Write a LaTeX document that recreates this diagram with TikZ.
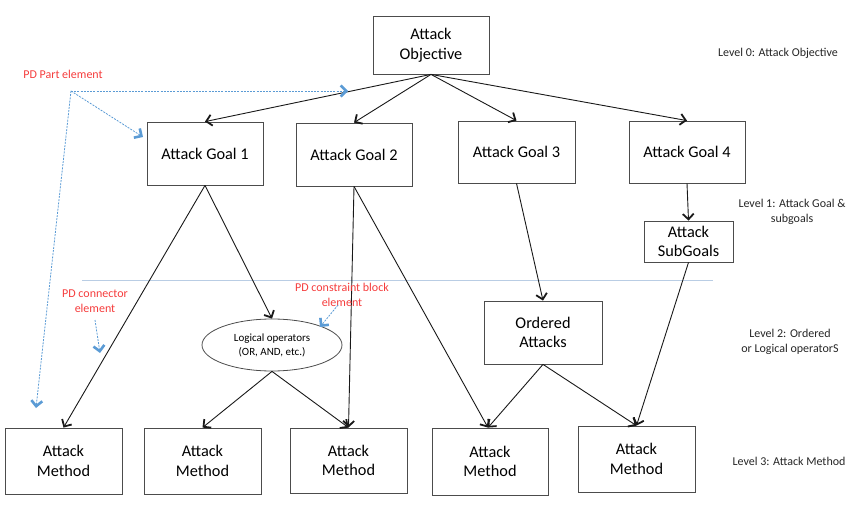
\documentclass[tikz,border=0pt]{standalone}
\usepackage{fontspec}
\setmainfont{Carlito}
\usetikzlibrary{arrows.meta,shapes.geometric}
\definecolor{pdblue}{RGB}{91,155,213}
\definecolor{pdred}{RGB}{245,60,60}
\definecolor{sepline}{RGB}{185,205,228}
\tikzset{
  box/.style={draw=black!70, line width=0.8pt, rectangle, align=center, font=\fontsize{16.3}{19.5}\selectfont, inner sep=0pt},
  conn/.style={draw=black!90, line width=0.9pt, -{Straight Barb[length=5.5pt,width=11pt,line width=1.8pt]}},
  pdconn/.style={draw=pdblue, line width=0.8pt, dash pattern=on 2pt off 1.2pt, -{Straight Barb[length=5.5pt,width=11pt,line width=2.6pt]}},
  pdlabel/.style={text=pdred, align=center, font=\fontsize{12}{15}\selectfont, inner sep=0pt},
  lvl/.style={text=black!85, align=center, font=\fontsize{12}{15.5}\selectfont, inner sep=0pt}
}
\begin{document}
\begin{tikzpicture}[x=1pt,y=-1pt]
\useasboundingbox (0,0) rectangle (864,510);
% separator line
\coordinate (sepL) at (82,280);
\coordinate (sepR) at (713,280);
\draw[sepline, line width=0.9pt] (sepL) -- (sepR);
% boxes
\node[box, minimum width=116pt, minimum height=58pt] (AO) at (431,45) {Attack\\Objective};
\node[box, minimum width=116pt, minimum height=63pt] (AG1) at (205,153.5) {Attack Goal 1};
\node[box, minimum width=116pt, minimum height=63pt] (AG2) at (354,154.5) {Attack Goal 2};
\node[box, minimum width=117pt, minimum height=62pt] (AG3) at (516.5,152) {Attack Goal 3};
\node[box, minimum width=116pt, minimum height=62pt] (AG4) at (687,152) {Attack Goal 4};
\node[box, minimum width=89pt, minimum height=41pt] (SG) at (688.5,241.5) {Attack\\SubGoals};
\node[box, minimum width=118pt, minimum height=63pt] (OA) at (543,332.5) {Ordered\\Attacks};
\node[draw=black!70, line width=0.8pt, ellipse, minimum width=140pt, minimum height=52pt, inner sep=0pt, align=center, font=\fontsize{11}{14}\selectfont] (LO) at (272,345) {Logical operators\\(OR, AND, etc.)};
\node[box, minimum width=117pt, minimum height=66pt] (M1) at (63.5,461) {Attack\\Method};
\node[box, minimum width=117pt, minimum height=66pt] (M2) at (202.5,461) {Attack\\Method};
\node[box, minimum width=117pt, minimum height=65pt] (M3) at (348.5,460.5) {Attack\\Method};
\node[box, minimum width=116pt, minimum height=67pt] (M4) at (490,461.5) {Attack\\Method};
\node[box, minimum width=117pt, minimum height=66pt] (M5) at (636.5,459) {Attack\\Method};
% connectors
\draw[conn] (AO.south) -- (AG1.north);
\draw[conn] (AO.south) -- (AG2.north);
\draw[conn] (AO.south) -- (AG3.north);
\draw[conn] (AO.south) -- (AG4.north);
\draw[conn] (AG4.south) -- (SG.north);
\draw[conn] (AG1.south) -- (M1.north);
\draw[conn] (AG1.south) -- (LO.north);
\draw[conn] (AG2.south) -- (M3.north);
\draw[conn] (AG2.south) -- ([xshift=-2pt]M4.north);
\draw[conn] (AG3.south) -- (OA.north);
\draw[conn] (SG.south) -- (M5.north);
\draw[conn] (LO.south) -- (M2.north);
\draw[conn] (LO.south) -- (M3.north);
\draw[conn] (OA.south) -- ([xshift=-2pt]M4.north);
\draw[conn] (OA.south) -- (M5.north);
% PD annotations
\node[pdlabel] (pdpart) at (63,74) {PD Part element};
\node[pdlabel] (pdconnlbl) at (95,301) {PD connector\\element};
\node[pdlabel] (pdconstr) at (342,295) {PD constraint block\\element};
\coordinate (pd) at (71,91);
\coordinate (pdA) at (348,91);
\coordinate (pdB) at (143,137);
\coordinate (pdC) at (36,408);
\coordinate (pcS) at (95,320);
\coordinate (pcE) at (100,353);
\coordinate (pkS) at (338,305);
\coordinate (pkE) at (320,327);
\draw[pdconn] (pd) -- (pdA);
\draw[pdconn] (pd) -- (pdB);
\draw[pdconn] (pd) -- (pdC);
\draw[pdconn] (pcS) -- (pcE);
\draw[pdconn] (pkS) -- (pkE);
% level labels
\node[lvl] (L0) at (778,53) {Level 0: Attack Objective};
\node[lvl] (L1) at (792,212) {Level 1: Attack Goal \&\\subgoals};
\node[lvl] (L2) at (790,342) {Level 2: Ordered\\or Logical operatorS};
\node[lvl] (L3) at (789,461) {Level 3: Attack Method};
\end{tikzpicture}
\end{document}
